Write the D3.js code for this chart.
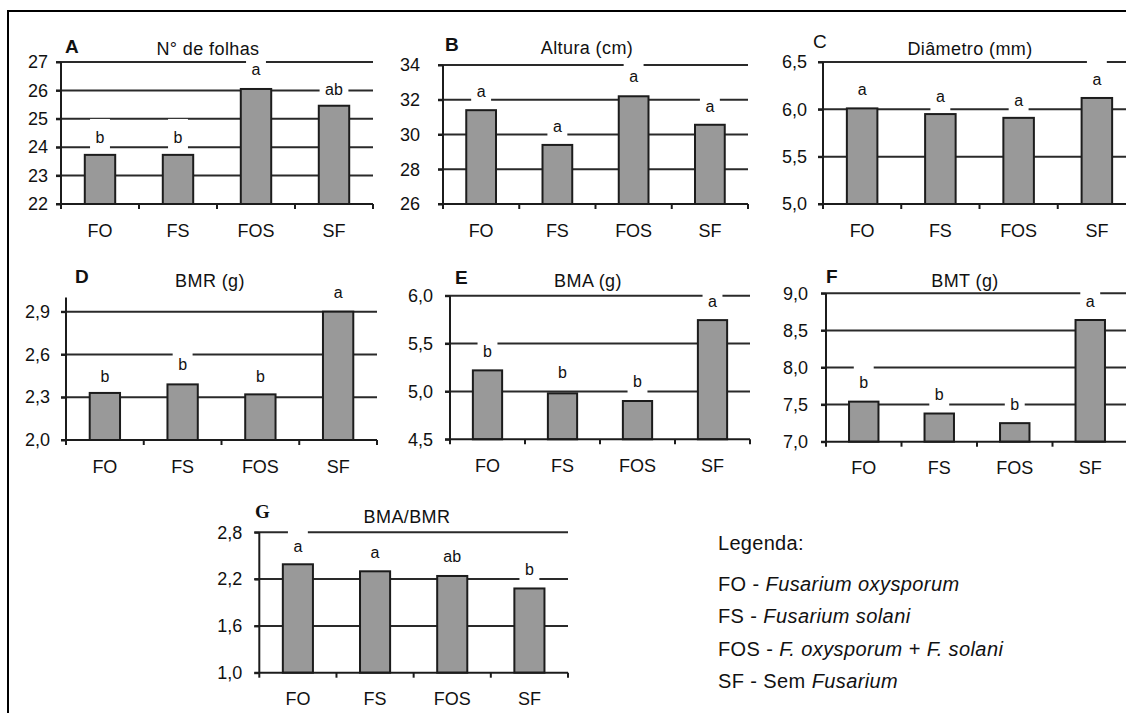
<!DOCTYPE html>
<html>
<head>
<meta charset="utf-8">
<script src="https://cdn.jsdelivr.net/npm/d3@7"></script>
<style>
  html, body { margin: 0; padding: 0; background: #fff; }
  svg { display: block; }
  text { font-family: "Liberation Sans", Arial, sans-serif; fill: #111; }
</style>
</head>
<body>
<svg id="fig" width="1126" height="713"></svg>
<script>
// Tratamentos
const categories = ["FO", "FS", "FOS", "SF"];

// Médias por variável
const folhas   = [23.73, 23.73, 26.05, 25.46];
const altura   = [31.40, 29.40, 32.20, 30.56];
const diametro = [6.01, 5.95, 5.91, 6.12];
const bmr      = [2.33, 2.39, 2.32, 2.90];
const bma      = [5.22, 4.98, 4.90, 5.745];
const bmt      = [7.54, 7.38, 7.25, 8.64];
const bmaBmr   = [2.39, 2.30, 2.24, 2.08];

// Letras do teste de médias
const letrasFolhas   = ["b", "b", "a", "ab"];
const letrasAltura   = ["a", "a", "a", "a"];
const letrasDiametro = ["a", "a", "a", "a"];
const letrasBmr      = ["b", "b", "b", "a"];
const letrasBma      = ["b", "b", "b", "a"];
const letrasBmt      = ["b", "b", "b", "a"];
const letrasBmaBmr   = ["a", "a", "ab", "b"];

// Nível (topo do erro) onde cada letra é apoiada
const topoFolhas   = [24.15, 24.15, 26.54, 25.84];
const topoAltura   = [32.15, 30.16, 33.03, 31.30];
const topoDiametro = [6.152, 6.081, 6.04, 6.258];
const topoBmr      = [2.409, 2.491, 2.409, 2.994];
const topoBma      = [5.362, 5.137, 5.049, 5.884];
const topoBmt      = [7.72, 7.562, 7.43, 8.82];
const topoBmaBmr   = [2.552, 2.468, 2.424, 2.253];

// Escalas dos eixos Y
const ticksFolhas   = [22, 23, 24, 25, 26, 27];
const ticksAltura   = [26, 28, 30, 32, 34];
const ticksDiametro = [5.0, 5.5, 6.0, 6.5];
const ticksBmr      = [2.0, 2.3, 2.6, 2.9];
const ticksBma      = [4.5, 5.0, 5.5, 6.0];
const ticksBmt      = [7.0, 7.5, 8.0, 8.5, 9.0];
const ticksBmaBmr   = [1.0, 1.6, 2.2, 2.8];

const legenda = [
  { sigla: "FO - ",  normal: "", italico: "Fusarium oxysporum" },
  { sigla: "FS - ",  normal: "", italico: "Fusarium solani" },
  { sigla: "FOS - ", normal: "", italico: "F. oxysporum + F. solani" },
  { sigla: "SF - ",  normal: "Sem ", italico: "Fusarium" }
];

const svg = d3.select("#fig");

// Moldura (topo e lado esquerdo)
svg.append("line").attr("x1", 8).attr("y1", 11).attr("x2", 1126).attr("y2", 11)
  .attr("stroke", "#000").attr("stroke-width", 2);
svg.append("line").attr("x1", 8).attr("y1", 10).attr("x2", 8).attr("y2", 713)
  .attr("stroke", "#000").attr("stroke-width", 2);

const comma = d => d3.format(".1f")(d).replace(".", ",");
const inteiro = d => d3.format("d")(d);

const panels = [
  { letra: "A", titulo: "N° de folhas", valores: folhas, letras: letrasFolhas, topos: topoFolhas,
    ticks: ticksFolhas, dom: [22, 27], fmt: inteiro,
    x0: 61, x1: 373, yTop: 62, yBot: 204, labGap: 13,
    lx: 65, ly: 52.7, tx: 208, ty: 55 },
  { letra: "B", titulo: "Altura (cm)", valores: altura, letras: letrasAltura, topos: topoAltura,
    ticks: ticksAltura, dom: [26, 34], fmt: inteiro,
    x0: 443, x1: 748, yTop: 65, yBot: 204, labGap: 23,
    lx: 445, ly: 50.7, tx: 587, ty: 54 },
  { letra: "C", titulo: "Diâmetro (mm)", valores: diametro, letras: letrasDiametro, topos: topoDiametro,
    ticks: ticksDiametro, dom: [5.0, 6.5], fmt: comma, letraPeso: "normal",
    x0: 823, x1: 1136, yTop: 62, yBot: 204, labGap: 16,
    lx: 813, ly: 48, tx: 970, ty: 55 },
  { letra: "D", titulo: "BMR (g)", valores: bmr, letras: letrasBmr, topos: topoBmr,
    ticks: ticksBmr, dom: [2.0, 3.0], fmt: comma,
    x0: 66, x1: 377, yTop: 297.4, yBot: 440, labGap: 16,
    lx: 75, ly: 283.3, tx: 210, ty: 287 },
  { letra: "E", titulo: "BMA (g)", valores: bma, letras: letrasBma, topos: topoBma,
    ticks: ticksBma, dom: [4.5, 6.0], fmt: comma,
    x0: 450, x1: 750, yTop: 295.7, yBot: 439.3, labGap: 17,
    lx: 455, ly: 284, tx: 588, ty: 287 },
  { letra: "F", titulo: "BMT (g)", valores: bmt, letras: letrasBmt, topos: topoBmt,
    ticks: ticksBmt, dom: [7.0, 9.0], fmt: comma,
    x0: 826, x1: 1128, yTop: 293.3, yBot: 441.7, labGap: 18,
    lx: 826, ly: 283, tx: 965, ty: 286.5 },
  { letra: "G", titulo: "BMA/BMR", valores: bmaBmr, letras: letrasBmaBmr, topos: topoBmaBmr,
    ticks: ticksBmaBmr, dom: [1.0, 2.8], fmt: comma, letraFonte: "'Liberation Serif', 'Times New Roman', serif",
    x0: 259.3, x1: 568, yTop: 532.3, yBot: 672.7, labGap: 17,
    lx: 255, ly: 518.3, tx: 407, ty: 523.3 }
];

const INK = "#1c1c1c";

panels.forEach(p => {
  const g = svg.append("g");

  const x = d3.scaleBand().domain(categories).range([p.x0, p.x1])
    .paddingInner(0.61).paddingOuter(0.305);
  const step = x.step();
  const y = d3.scaleLinear().domain(p.dom).range([p.yBot, p.yTop]);

  // Linhas de grade horizontais
  g.selectAll("line.grid").data(p.ticks.slice(1)).join("line")
    .attr("class", "grid")
    .attr("x1", p.x0 - 5).attr("x2", p.x1)
    .attr("y1", d => y(d)).attr("y2", d => y(d))
    .attr("stroke", "#2a2a2a").attr("stroke-width", 2);

  // Letras de significância com fundo branco
  const lab = g.selectAll("g.lab").data(categories).join("g").attr("class", "lab");
  const labText = lab.append("text")
    .attr("x", d => x(d) + x.bandwidth() / 2)
    .attr("y", (d, i) => y(p.topos[i]))
    .attr("text-anchor", "middle")
    .style("font-size", "16px")
    .text((d, i) => p.letras[i]);
  labText.each(function(d, i) {
    const w = this.getComputedTextLength() + 11;
    const cx = x(d) + x.bandwidth() / 2;
    const by = y(p.topos[i]);
    d3.select(this.parentNode).insert("rect", "text")
      .attr("x", cx - w / 2).attr("width", w)
      .attr("y", by - 24).attr("height", 34)
      .attr("fill", "#fff");
  });

  // Barras
  g.selectAll("rect.bar").data(categories).join("rect")
    .attr("class", "bar")
    .attr("x", d => x(d))
    .attr("width", x.bandwidth())
    .attr("y", (d, i) => y(p.valores[i]))
    .attr("height", (d, i) => y(p.dom[0]) - y(p.valores[i]))
    .attr("fill", "#999999")
    .attr("stroke", INK).attr("stroke-width", 2);

  // Eixo Y
  const yAxis = d3.axisLeft(y).tickValues(p.ticks).tickSize(5).tickPadding(p.labGap - 5)
    .tickFormat(p.fmt);
  const ya = g.append("g").attr("transform", `translate(${p.x0},0)`).call(yAxis);
  ya.select(".domain").remove();
  ya.selectAll(".tick line").attr("stroke", INK).attr("stroke-width", 2);
  ya.selectAll(".tick text").style("font-size", "18px").attr("fill", "#111")
    .style("font-family", "'Liberation Sans', Arial, sans-serif");
  g.append("line").attr("x1", p.x0).attr("x2", p.x0)
    .attr("y1", p.yTop).attr("y2", p.yBot + 5)
    .attr("stroke", INK).attr("stroke-width", 2);

  // Eixo X: linha, marcas entre categorias e rótulos
  g.append("line").attr("x1", p.x0 - 5).attr("x2", p.x1)
    .attr("y1", p.yBot).attr("y2", p.yBot)
    .attr("stroke", INK).attr("stroke-width", 2);
  g.selectAll("line.xt").data(d3.range(1, categories.length + 1)).join("line")
    .attr("class", "xt")
    .attr("x1", i => p.x0 + i * step).attr("x2", i => p.x0 + i * step)
    .attr("y1", p.yBot).attr("y2", p.yBot + 5)
    .attr("stroke", INK).attr("stroke-width", 2);
  const xAxis = d3.axisBottom(x).tickSize(0).tickPadding(20);
  const xa = g.append("g").attr("transform", `translate(0,${p.yBot})`).call(xAxis);
  xa.select(".domain").remove();
  xa.selectAll(".tick text").style("font-size", "18px").attr("fill", "#111")
    .style("font-family", "'Liberation Sans', Arial, sans-serif");

  // Título e letra do painel
  g.append("text").attr("x", p.tx).attr("y", p.ty).attr("text-anchor", "middle")
    .style("font-size", "18px").style("letter-spacing", "0.4px").text(p.titulo);
  g.append("text").attr("x", p.lx).attr("y", p.ly)
    .style("font-size", "19px").style("font-weight", p.letraPeso || "bold")
    .style("font-family", p.letraFonte || "'Liberation Sans', Arial, sans-serif")
    .text(p.letra);
});

// Legenda
const leg = svg.append("g");
leg.append("text").attr("x", 718).attr("y", 550).style("font-size", "20px")
  .style("letter-spacing", "0.3px").text("Legenda:");
const linhas = leg.selectAll("text.item").data(legenda).join("text")
  .attr("class", "item")
  .attr("x", 718)
  .attr("y", (d, i) => 590.5 + i * 32.5)
  .style("font-size", "20px")
  .style("letter-spacing", "0.4px");
linhas.append("tspan").text(d => d.sigla + d.normal);
linhas.append("tspan").style("font-style", "italic").text(d => d.italico);
</script>
</body>
</html>
